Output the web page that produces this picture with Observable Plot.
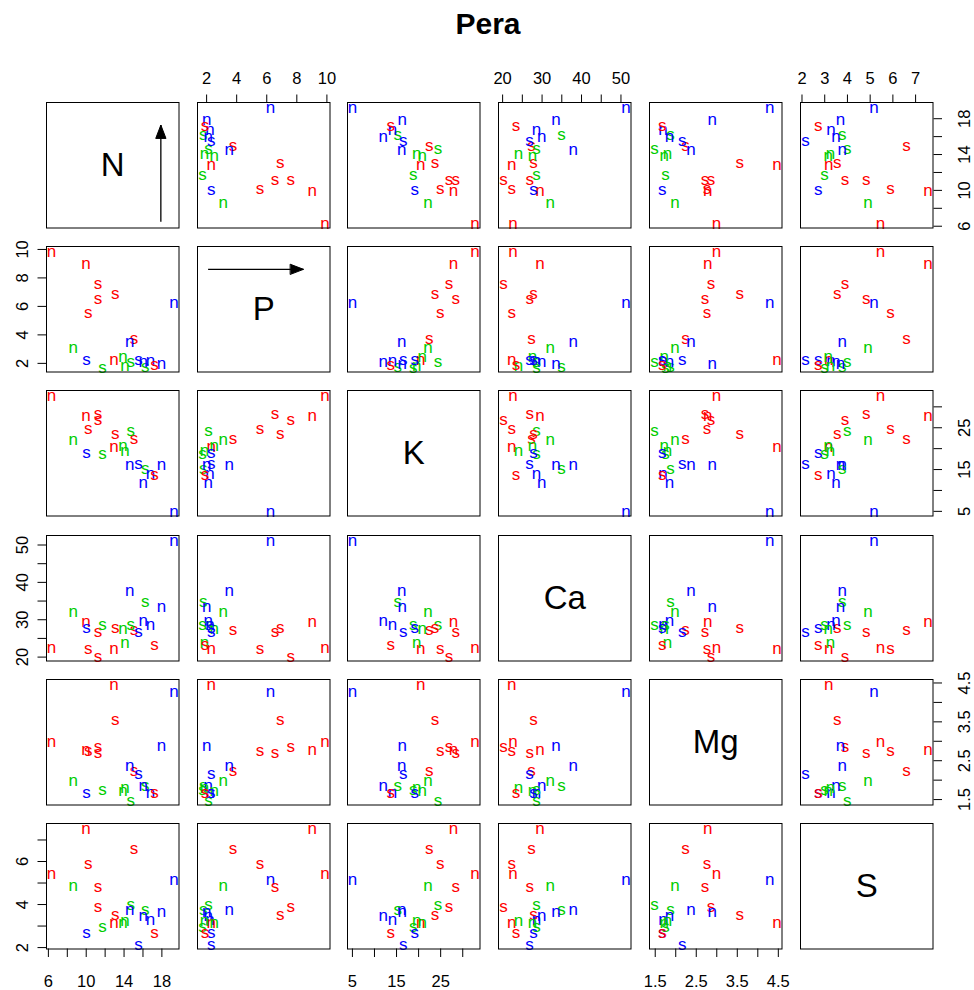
<!DOCTYPE html>
<html>
<head>
<meta charset="utf-8">
<title>Pera</title>
<script src="https://cdn.jsdelivr.net/npm/d3@7"></script>
<script src="https://cdn.jsdelivr.net/npm/@observablehq/plot@0.6"></script>
<style>
  html, body { margin: 0; padding: 0; background: #ffffff; }
  #chart { position: relative; width: 974px; height: 990px; font-family: "Liberation Sans", Arial, Helvetica, sans-serif; }
  #chart svg { position: absolute; overflow: visible; }
  #title { position: absolute; left: 0; width: 976px; top: 6px; text-align: center; font-weight: bold; font-size: 30px; line-height: 36px; color: #000; }
</style>
</head>
<body>
<div id="chart"><div id="title">Pera</div></div>
<script>
// Leaf nutrient concentrations, one value per sample
const N  = [9.97, 15.04, 6.32, 10.22, 8.64, 19.29, 11.24, 11.24, 14.72, 14.61, 16.23, 17.95, 13.07, 16.02, 16.79, 12.93, 13.9, 14.1, 11.73, 10.04, 17.22, 15.53];
const P  = [9.03, 3.75, 9.88, 5.55, 3.1, 6.24, 6.55, 7.6, 2.12, 3.5, 1.78, 2.0, 6.9, 2.1, 2.22, 2.3, 2.5, 1.85, 1.72, 2.3, 1.9, 2.3];
const K  = [27.9, 22.4, 32.8, 24.9, 22.1, 5.0, 28.4, 26.9, 24.4, 16.2, 15.3, 16.3, 23.7, 12.0, 14.1, 20.5, 20.8, 19.6, 18.8, 19.1, 13.7, 16.5];
const Ca = [29.5, 27.3, 22.6, 22.3, 32.1, 51.3, 26.9, 20.2, 28.6, 37.9, 34.9, 33.5, 27.8, 29.9, 28.6, 22.3, 27.6, 24.0, 28.6, 27.8, 23.4, 26.8];
const Mg = [2.78, 2.24, 2.99, 2.76, 1.98, 4.29, 2.71, 2.86, 1.48, 2.37, 1.87, 2.89, 3.56, 1.85, 1.69, 4.47, 1.72, 1.80, 1.75, 1.67, 1.67, 2.16];
const S  = [7.55, 6.6, 5.45, 5.9, 4.9, 5.17, 4.83, 3.89, 3.99, 3.77, 3.77, 3.69, 3.55, 3.5, 3.28, 3.18, 3.15, 3.25, 2.99, 2.71, 2.71, 2.15];

// Group of each sample (1, 2, 3) and the letter drawn for it
const group = [1, 1, 1, 1, 3, 2, 1, 1, 3, 2, 3, 2, 1, 2, 2, 1, 3, 3, 3, 2, 1, 2];
const tag   = ["n", "s", "n", "s", "n", "n", "s", "s", "s", "n", "s", "n", "s", "n", "n", "n", "n", "n", "s", "s", "s", "s"];

const variables = ["N", "P", "K", "Ca", "Mg", "S"];
const groupIds    = [1, 2, 3];
const groupColors = ["#FF0000", "#0000FF", "#00CD00"];

// Tick positions and the ticks that carry a number
const nTicks  = [6, 8, 10, 12, 14, 16, 18];
const nLabels = [6, 10, 14, 18];
const pTicks  = [2, 4, 6, 8, 10];
const pLabels = [2, 4, 6, 8, 10];
const kTicks  = [5, 10, 15, 20, 25, 30];
const kLabels = [5, 15, 25];
const caTicks  = [20, 25, 30, 35, 40, 45, 50];
const caLabels = [20, 30, 40, 50];
const mgTicks  = [1.5, 2, 2.5, 3, 3.5, 4, 4.5];
const mgLabels = [1.5, 2.5, 3.5, 4.5];
const sTicks   = [2, 3, 4, 5, 6, 7];
const sLabelsH = [2, 3, 4, 5, 6, 7];
const sLabelsV = [2, 4, 6];

// Direction arrows drawn in the N and P diagonal panels (panel fractions)
const arrowPanel = ["N", "P"];
const arrowFrom  = [[0.863, 0.05], [0.08, 0.818]];
const arrowTo    = [[0.863, 0.82], [0.80, 0.818]];
const arrowAngle = [0, 90];

const values = {N, P, K, Ca, Mg, S};
const ticksOf = {N: nTicks, P: pTicks, K: kTicks, Ca: caTicks, Mg: mgTicks, S: sTicks};
const labelsH = {N: nLabels, P: pLabels, K: kLabels, Ca: caLabels, Mg: mgLabels, S: sLabelsH};
const labelsV = {N: nLabels, P: pLabels, K: kLabels, Ca: caLabels, Mg: mgLabels, S: sLabelsV};

const rows = N.map((_, k) => ({N: N[k], P: P[k], K: K[k], Ca: Ca[k], Mg: Mg[k], S: S[k], group: group[k], tag: tag[k]}));
const arrows = arrowPanel.map((p, k) => ({panel: p, x1: arrowFrom[k][0], y1: arrowFrom[k][1], x2: arrowTo[k][0], y2: arrowTo[k][1], angle: arrowAngle[k]}));

// Axis range padded by 4% on each side
function padded(v) {
  const [a, b] = d3.extent(v);
  const r = b - a;
  return [a - 0.04 * r, b + 0.04 * r];
}
const fmt = labels => d => labels.includes(d) ? String(d) : "";

// Filled triangular arrow head
const head = {
  draw(context, l) {
    context.moveTo(-5, 0);
    context.lineTo(0, -l);
    context.lineTo(5, 0);
    context.closePath();
  }
};

const panelW = 132.5, panelH = 125.5;
const left0 = 45.7, top0 = 101.7, stepX = 150.8, stepY = 144.3;
const tickFont = 16.5, pointFont = 17, nameFont = 33;

const chart = document.getElementById("chart");

variables.forEach((vy, i) => {
  variables.forEach((vx, j) => {
    const diag = i === j;
    const hasTop = i === 0 && j % 2 === 1;
    const hasBottom = i === variables.length - 1 && j % 2 === 0;
    const hasLeft = j === 0 && i % 2 === 1;
    const hasRight = j === variables.length - 1 && i % 2 === 0;
    const ml = hasLeft ? 40 : 2, mr = hasRight ? 40 : 2;
    const mt = hasTop ? 40 : 2, mb = hasBottom ? 45 : 2;

    const marks = [];
    if (hasTop) marks.push(Plot.axisX({anchor: "top", ticks: ticksOf[vx], tickFormat: fmt(labelsH[vx]), tickSize: 8.5, tickPadding: 10, fontSize: tickFont, label: null}));
    if (hasBottom) marks.push(Plot.axisX({anchor: "bottom", ticks: ticksOf[vx], tickFormat: fmt(labelsH[vx]), tickSize: 8.5, tickPadding: 17.5, fontSize: tickFont, label: null}));
    if (hasLeft) marks.push(Plot.axisY({anchor: "left", ticks: ticksOf[vy], tickFormat: fmt(labelsV[vy]), tickSize: 8.5, tickPadding: 10.5, tickRotate: -90, fontSize: tickFont, label: null}));
    if (hasRight) marks.push(Plot.axisY({anchor: "right", ticks: ticksOf[vy], tickFormat: fmt(labelsV[vy]), tickSize: 8.5, tickPadding: 16.5, tickRotate: -90, lineAnchor: "top", fontSize: tickFont, label: null}));

    if (diag) {
      marks.push(Plot.text([vx], {frameAnchor: "middle", text: d => d, fontSize: nameFont, fill: "black"}));
      const own = arrows.filter(a => a.panel === vx);
      if (own.length) {
        marks.push(Plot.link(own, {x1: "x1", y1: "y1", x2: "x2", y2: "y2", stroke: "black", strokeWidth: 1.3}));
        marks.push(Plot.vector(own, {x: "x2", y: "y2", anchor: "end", length: 13, rotate: "angle", shape: head, fill: "black", stroke: "black", strokeWidth: 1}));
      }
    } else {
      marks.push(Plot.text(rows, {x: vx, y: vy, text: "tag", fill: "group", fontSize: pointFont}));
    }
    marks.push(Plot.frame({stroke: "black", strokeWidth: 1}));

    const svg = Plot.plot({
      width: panelW + ml + mr,
      height: panelH + mt + mb,
      marginLeft: ml, marginRight: mr, marginTop: mt, marginBottom: mb,
      style: {background: "transparent", fontFamily: "'Liberation Sans', Arial, Helvetica, sans-serif", fontSize: "16px", color: "black", overflow: "visible"},
      x: {domain: diag ? [0, 1] : padded(values[vx]), axis: (hasTop || hasBottom) ? undefined : null},
      y: {domain: diag ? [0, 1] : padded(values[vy]), axis: (hasLeft || hasRight) ? undefined : null},
      color: {type: "ordinal", domain: groupIds, range: groupColors},
      marks
    });
    svg.style.position = "absolute";
    svg.style.left = (left0 + j * stepX - ml) + "px";
    svg.style.top = (top0 + i * stepY - mt) + "px";
    svg.style.maxWidth = "none";
    chart.appendChild(svg);
  });
});
</script>
</body>
</html>
